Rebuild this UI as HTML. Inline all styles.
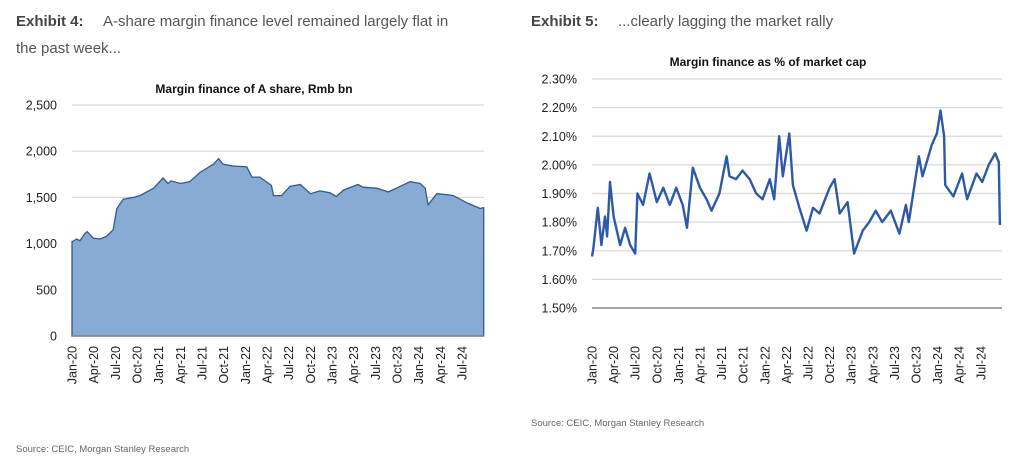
<!DOCTYPE html>
<html><head><meta charset="utf-8"><style>
body{margin:0;background:#fff;width:1024px;height:461px;overflow:hidden;font-family:"Liberation Sans",sans-serif}
svg{position:absolute;left:0;top:0}
</style></head><body>
<svg width="1024" height="461">
<g fill="#555" font-size="15">
<text x="16" y="26"><tspan font-weight="bold" fill="#444">Exhibit 4:</tspan><tspan x="103">A-share margin finance level remained largely flat in</tspan></text>
<text x="16" y="53">the past week...</text>
</g>
<g fill="#555" font-size="15">
<text x="531" y="26"><tspan font-weight="bold" fill="#444">Exhibit 5:</tspan><tspan x="618">...clearly lagging the market rally</tspan></text>
</g>
<text x="16" y="452" font-size="9.5" fill="#666">Source: CEIC, Morgan Stanley Research</text>
<text x="531" y="426" font-size="9.5" fill="#666">Source: CEIC, Morgan Stanley Research</text>
<text x="254" y="93" font-size="12" font-weight="bold" text-anchor="middle" fill="#111">Margin finance of A share, Rmb bn</text>
<text x="768" y="66" font-size="12" font-weight="bold" text-anchor="middle" fill="#111">Margin finance as % of market cap</text>
<g id="left"></g>
<g id="right"></g>
</svg>
<script>
const quarterLabels = ["Jan-20","Apr-20","Jul-20","Oct-20","Jan-21","Apr-21","Jul-21","Oct-21","Jan-22","Apr-22","Jul-22","Oct-22","Jan-23","Apr-23","Jul-23","Oct-23","Jan-24","Apr-24","Jul-24"];
const leftTicks = [0,500,1000,1500,2000,2500];
const leftTickLabels = ["0","500","1,000","1,500","2,000","2,500"];
const leftMonths = [0,0.65,1.1,1.8,2.1,2.95,3.9,4.8,5.7,6.2,7.1,8.5,9.4,11.3,12.6,13.3,13.7,15,16.3,17.7,19.6,20.3,20.9,22.3,24.2,24.9,26,27.6,27.9,29,30.2,31.6,33,34.3,35.7,36.6,37.6,39.6,40.3,42.2,43.8,44.9,46.8,48.2,48.9,49.3,50.5,51.9,52.8,54.7,56.5,57];
const leftValues = [1020,1050,1030,1110,1130,1060,1050,1080,1150,1380,1480,1500,1520,1600,1710,1650,1680,1650,1670,1770,1860,1920,1860,1840,1830,1720,1720,1630,1520,1520,1620,1640,1540,1570,1550,1510,1580,1640,1610,1600,1560,1600,1670,1650,1600,1420,1540,1530,1520,1440,1380,1390];
const rightTicks = [1.5,1.6,1.7,1.8,1.9,2.0,2.1,2.2,2.3];
const rightTickLabels = ["1.50%","1.60%","1.70%","1.80%","1.90%","2.00%","2.10%","2.20%","2.30%"];
const rightMonths = [0,0.2,0.8,1.3,1.8,2.1,2.5,3,3.9,4.6,5.3,6,6.3,7.1,8,9,9.9,10.8,11.7,12.6,13.2,14,15,15.9,16.6,17.7,18.7,19.1,20,20.9,21.9,22.8,23.7,24.7,25.3,26,26.5,27.4,27.9,28.8,29.8,30.7,31.6,33,33.7,34.4,35.5,36.4,37.6,38.5,39.4,40.3,41.5,42.7,43.6,44,45.4,45.9,47.2,47.9,48.4,48.9,49.05,50.2,51.4,52.1,53.4,54.2,55.1,56,56.5,56.65];
const rightValues = [1.68,1.71,1.85,1.72,1.82,1.75,1.94,1.82,1.72,1.78,1.72,1.69,1.90,1.86,1.97,1.87,1.92,1.86,1.92,1.86,1.78,1.99,1.92,1.88,1.84,1.90,2.03,1.96,1.95,1.98,1.95,1.90,1.88,1.95,1.88,2.10,1.96,2.11,1.93,1.85,1.77,1.85,1.83,1.92,1.95,1.83,1.87,1.69,1.77,1.80,1.84,1.80,1.84,1.76,1.86,1.80,2.03,1.96,2.07,2.11,2.19,2.10,1.93,1.89,1.97,1.88,1.97,1.94,2.00,2.04,2.01,1.79];
const NS='http://www.w3.org/2000/svg';
function mk(parent,tag,attrs,txt){const e=document.createElementNS(NS,tag);for(const k in attrs)e.setAttribute(k,attrs[k]);if(txt!==undefined)e.textContent=txt;parent.appendChild(e);return e;}
function chart(g,cfg){
  const xs=m=>cfg.x0+m*cfg.qw/3;
  const ys=v=>cfg.yB-(v-cfg.vmin)/(cfg.vmax-cfg.vmin)*(cfg.yB-cfg.yT);
  cfg.ticks.forEach((t,i)=>{
    const y=ys(t);
    if(i>0){const l=mk(g,'line',{x1:cfg.x0,x2:cfg.x1,y1:y,y2:y,stroke:'#d9d9d9','stroke-width':1.2});
    
    }
    const tx=mk(g,'text',{x:cfg.lx,y:y+4.5,'text-anchor':'end','font-size':12.5,fill:'#222'},cfg.tickLabels[i]);
    
    
  });
  quarterLabels.forEach((q,i)=>{
    const x=xs(i*3)+4.5;
    const t=mk(g,'text',{transform:`translate(${x},346) rotate(-90)`,'text-anchor':'end','font-size':12.5,fill:'#222'},q);
    
    
  });
  let d='';cfg.months.forEach((m,i)=>{d+=(i?'L':'M')+xs(m).toFixed(1)+','+ys(cfg.values[i]).toFixed(1);});
  if(cfg.area){
    const last=cfg.months[cfg.months.length-1];
    const a=mk(g,'path',{d:d+`L${xs(last)},${cfg.yB}L${xs(0)},${cfg.yB}Z`,fill:'#87abd2',stroke:'#2f5a9a','stroke-width':1.3});
    
    
  } else {
    const p=mk(g,'path',{d:d,fill:'none',stroke:'#2c5aa6','stroke-width':2.4,'stroke-linejoin':'round'});
    
    
  }
  const ax=mk(g,'line',{x1:cfg.x0,x2:cfg.x1,y1:cfg.yB,y2:cfg.yB,stroke:'#888','stroke-width':1.5});
  
  
}
chart(document.getElementById('left'),{x0:72,x1:484,qw:21.67,yT:105,yB:336,vmin:0,vmax:2500,ticks:leftTicks,tickLabels:leftTickLabels,lx:57,months:leftMonths,values:leftValues,area:true});
chart(document.getElementById('right'),{x0:592,x1:1002,qw:21.6,yT:79,yB:308,vmin:1.5,vmax:2.3,ticks:rightTicks,tickLabels:rightTickLabels,lx:577,months:rightMonths,values:rightValues,area:false});
</script>
</body></html>
